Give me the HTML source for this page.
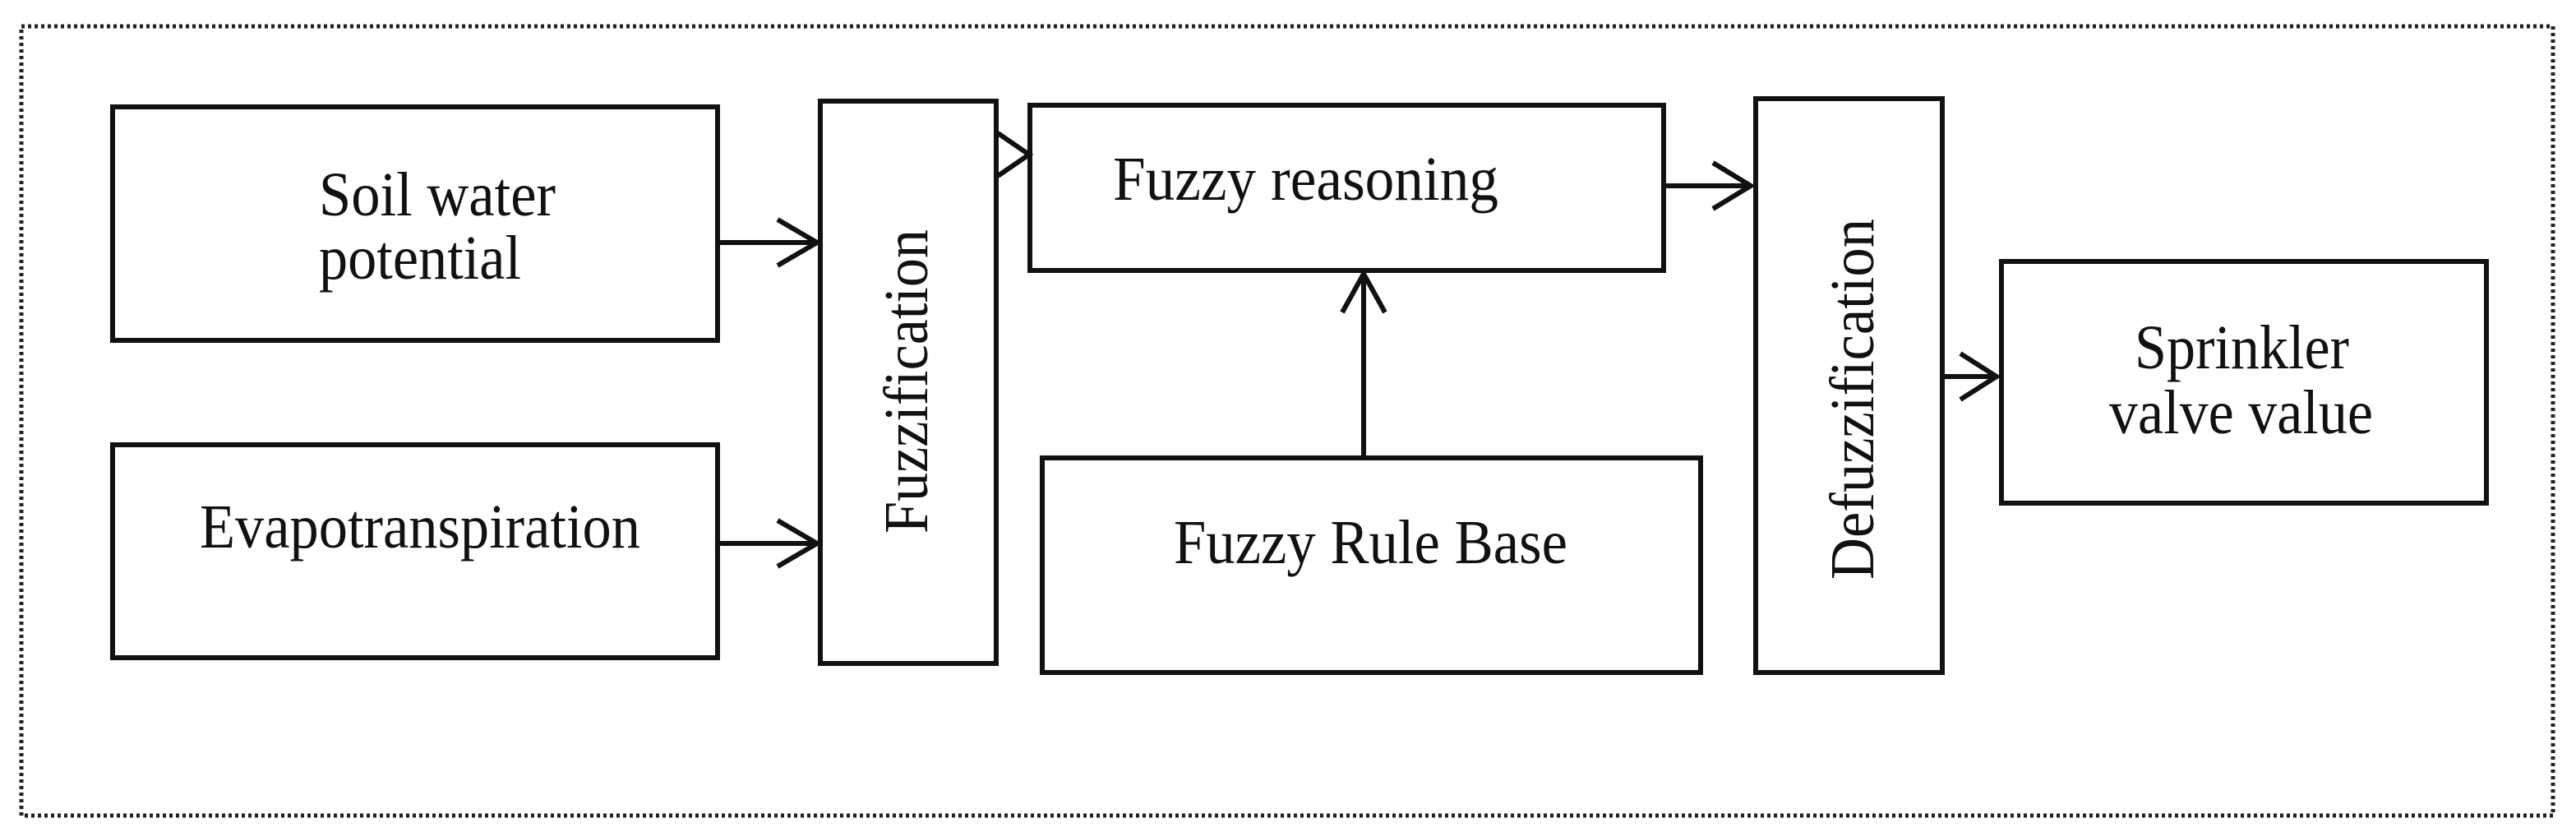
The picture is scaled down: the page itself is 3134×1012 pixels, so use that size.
<!DOCTYPE html>
<html><head><meta charset="utf-8"><style>
html,body{margin:0;padding:0;background:#fff;width:3134px;height:1012px;overflow:hidden}
svg{display:block}
text{font-family:"Liberation Serif",serif;font-size:76px;fill:#111}
</style></head><body>
<svg width="3134" height="1012" viewBox="0 0 3134 1012" xmlns="http://www.w3.org/2000/svg">
<rect x="26" y="32" width="3080" height="960" fill="none" stroke="#222" stroke-width="5" stroke-dasharray="4,4"/>
<g fill="none" stroke="#111" stroke-width="6">
<rect x="137" y="130" width="736" height="284"/>
<rect x="137" y="541" width="736" height="259"/>
<rect x="998" y="123" width="214" height="684"/>
<rect x="1253" y="128" width="771" height="201"/>
<rect x="1268" y="557" width="801" height="261"/>
<rect x="2136" y="120" width="227" height="698"/>
<rect x="2435" y="318" width="590" height="294"/>
</g>
<g fill="none" stroke="#111" stroke-width="6" stroke-linejoin="miter">
<line x1="873" y1="295" x2="994" y2="295"/><polyline points="946,267 994,295 946,323"/>
<line x1="873" y1="661" x2="994" y2="661"/><polyline points="946,633 994,661 946,689"/>
<polyline points="1214,162 1252,188 1214,214"/>
<line x1="2024" y1="226" x2="2130" y2="226"/><polyline points="2084,198 2130,226 2084,254"/>
<line x1="1659" y1="557" x2="1659" y2="333"/><polyline points="1633,380 1659,333 1685,380"/>
<line x1="2363" y1="458" x2="2429" y2="458"/><polyline points="2385,430 2429,458 2385,486"/>
</g>
<text x="388" y="262" textLength="288" lengthAdjust="spacingAndGlyphs">Soil water</text>
<text x="388" y="339" textLength="246" lengthAdjust="spacingAndGlyphs">potential</text>
<text x="243" y="666" textLength="536" lengthAdjust="spacingAndGlyphs">Evapotranspiration</text>
<text x="1354" y="243" textLength="469" lengthAdjust="spacingAndGlyphs">Fuzzy reasoning</text>
<text x="1428" y="685" textLength="479" lengthAdjust="spacingAndGlyphs">Fuzzy Rule Base</text>
<text x="2597" y="448" textLength="261" lengthAdjust="spacingAndGlyphs">Sprinkler</text>
<text x="2566" y="527" textLength="321" lengthAdjust="spacingAndGlyphs">valve value</text>
<text transform="translate(1128,649) rotate(-90)" x="0" y="0" textLength="370" lengthAdjust="spacingAndGlyphs">Fuzzification</text>
<text transform="translate(2279,705) rotate(-90)" x="0" y="0" textLength="439" lengthAdjust="spacingAndGlyphs">Defuzzification</text>
</svg>
</body></html>
